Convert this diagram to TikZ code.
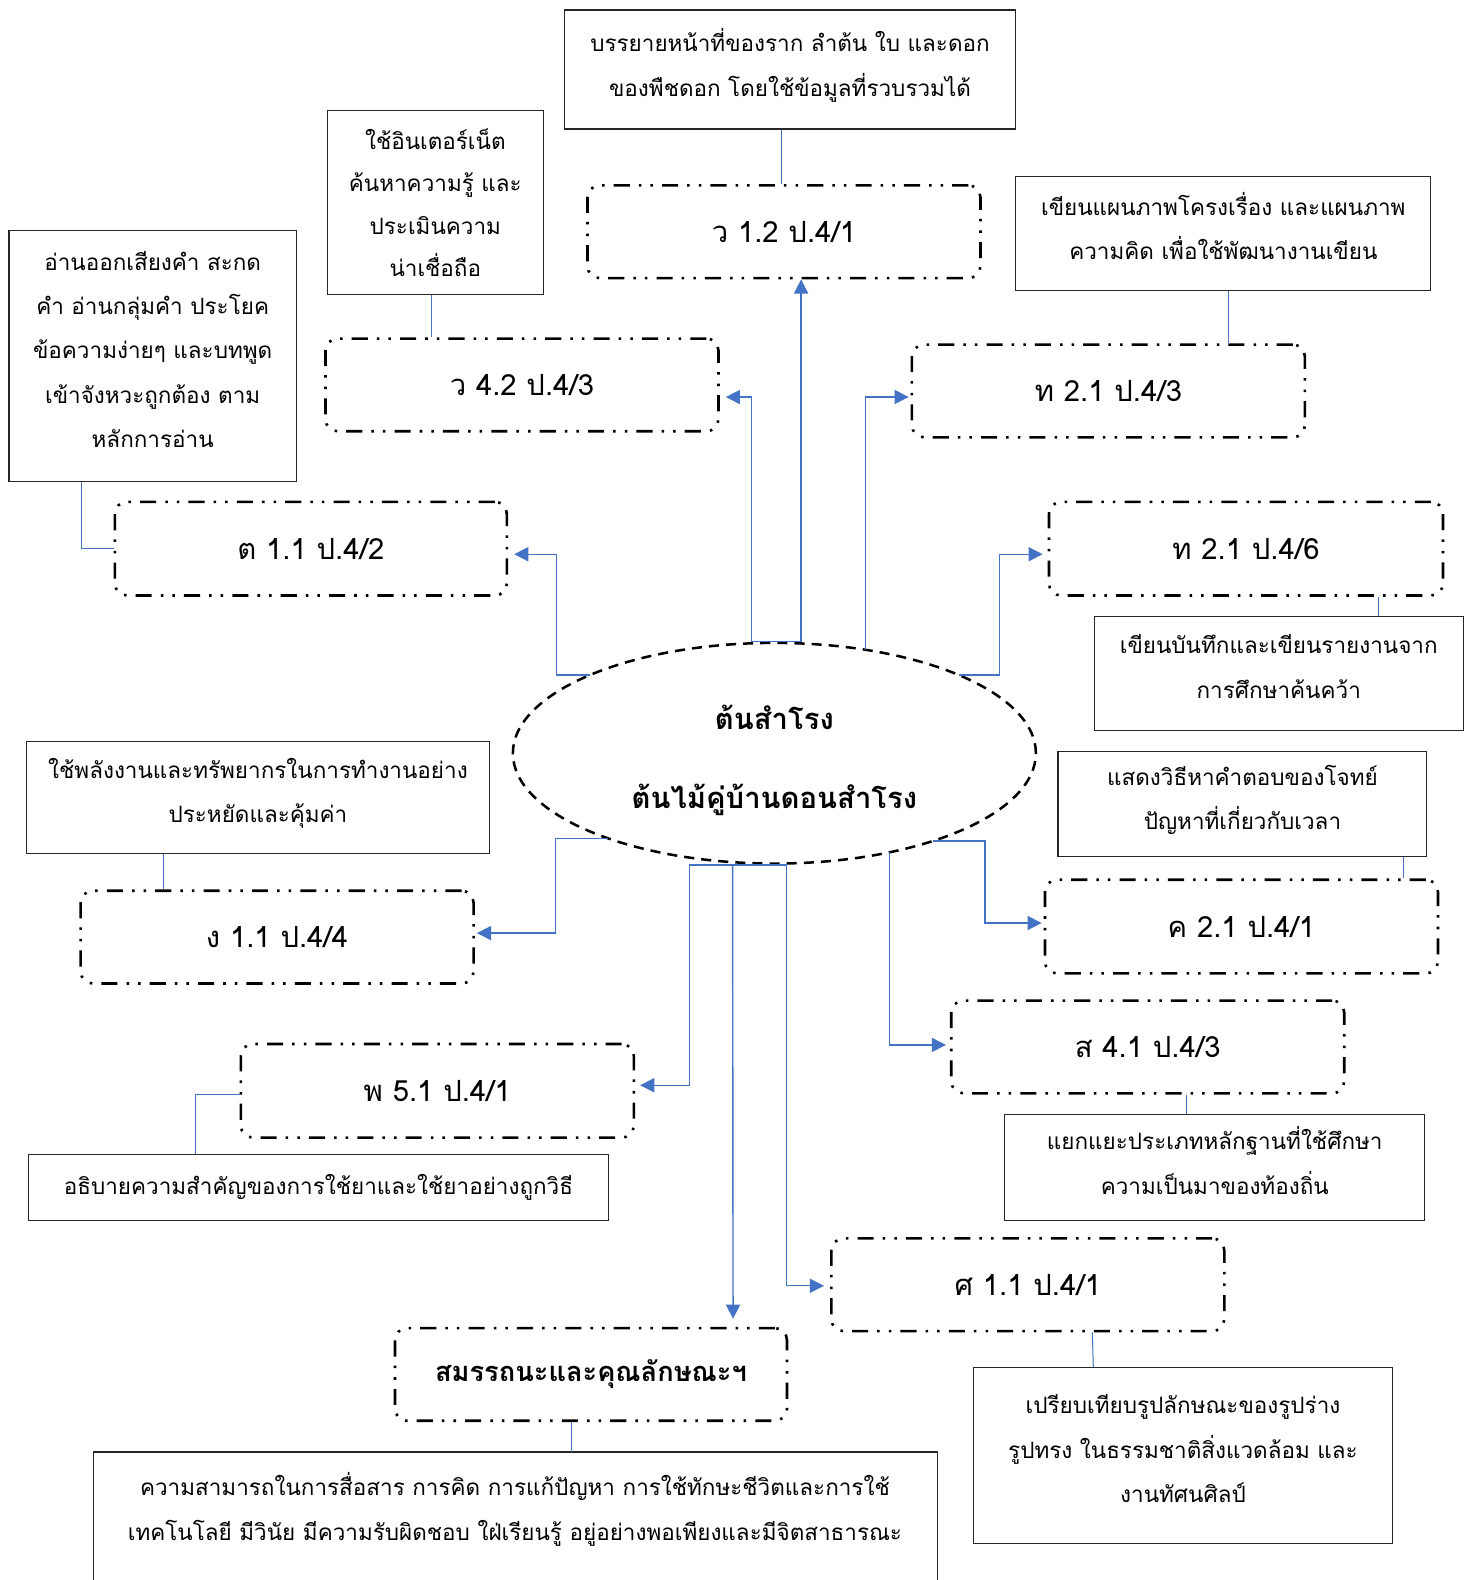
\documentclass[tikz,border=0pt]{standalone}
\usepackage{fontspec}
\newfontfamily\thaifont[Script=Thai]{Loma}
\usetikzlibrary{shapes.geometric,arrows.meta}
\definecolor{conn}{HTML}{4472C4}
\begin{document}
\begin{tikzpicture}[x=1pt,y=-1pt,
  txtbase/.style={draw=black!85, line width=1.2pt, align=center, inner sep=0pt, text=black,
    font=\thaifont\fontsize{22.3}{44}\selectfont},
  txtbox/.style={txtbase, execute at end node={\rule[-14pt]{0pt}{0pt}}},
  codebox/.style={draw=black, line width=2.6pt, rounded corners=12pt,
    dash pattern=on 16pt off 9pt on 2.5pt off 9pt on 2.5pt off 9pt,
    minimum width=390, minimum height=92, inner sep=0pt,
    font=\thaifont\fontsize{29}{32}\selectfont},
  link/.style={draw=conn, line width=1pt},
  arr/.style={draw=conn, line width=1.4pt, -{Triangle[length=14pt,width=14pt]}, shorten >=2pt},
]
\path[use as bounding box] (0,0) rectangle (1460,1568);
\clip (0,0) rectangle (1460,1568);
\fill[white] (0,0) rectangle (1460,1568);

% centre ellipse
\node[ellipse, draw=black, line width=2.5pt, dash pattern=on 10pt off 7pt,
  minimum width=519, minimum height=219, align=center,
  font=\thaifont\bfseries\fontsize{29}{78}\selectfont] (ell) at (768.5,747.5)
  {\rule{0pt}{38pt}ต้นสำโรง\\ต้นไม้คู่บ้านดอนสำโรง};

% code boxes
\node[codebox] (w12) at (778,230) {ว 1.2 ป.4/1};
\node[codebox] (w42) at (518,382) {ว 4.2 ป.4/3};
\node[codebox, minimum width=389, minimum height=93] (t11) at (308.5,544.5) {ต 1.1 ป.4/2};
\node[codebox] (th213) at (1100,388) {ท 2.1 ป.4/3};
\node[codebox, minimum width=391, minimum height=93] (th216) at (1236.5,544.5) {ท 2.1 ป.4/6};
\node[codebox] (ng11) at (275,930) {ง 1.1 ป.4/4};
\node[codebox, minimum height=93] (phw) at (434,1082.5) {พ 5.1 ป.4/1};
\node[codebox, minimum height=93] (kh21) at (1232,919.5) {ค 2.1 ป.4/1};
\node[codebox] (s41) at (1139,1039) {ส 4.1 ป.4/3};
\node[codebox] (sa11) at (1020,1275) {ศ 1.1 ป.4/1};
\node[codebox, minimum width=389, font=\thaifont\bfseries\fontsize{27}{30}\selectfont] (skill) at (586.5,1364) {สมรรถนะและคุณลักษณะฯ};

% text boxes
\node[txtbox, minimum width=448, minimum height=118] (topA) at (784,69)
  {บรรยายหน้าที่ของราก ลำต้น ใบ และดอก\\ของพืชดอก โดยใช้ข้อมูลที่รวบรวมได้};
\node[txtbase, minimum width=214, minimum height=182,
  font=\thaifont\fontsize{22.3}{42}\selectfont] (netA) at (432,201)
  {ใช้อินเตอร์เน็ต\\ค้นหาความรู้ และ\\ประเมินความ\\น่าเชื่อถือ};
\node[txtbox, minimum width=285, minimum height=249] (readA) at (151.5,353.5)
  {อ่านออกเสียงคำ สะกด\\คำ อ่านกลุ่มคำ ประโยค\\ข้อความง่ายๆ และบทพูด\\เข้าจังหวะถูกต้อง ตาม\\หลักการอ่าน};
\node[txtbox, minimum width=412, minimum height=113] (planA) at (1214,231.5)
  {เขียนแผนภาพโครงเรื่อง และแผนภาพ\\ความคิด เพื่อใช้พัฒนางานเขียน};
\node[txtbox, minimum width=366, minimum height=113] (noteA) at (1269,668.5)
  {เขียนบันทึกและเขียนรายงานจาก\\การศึกษาค้นคว้า};
\node[txtbox, minimum width=460, minimum height=111] (energyA) at (256,791.5)
  {ใช้พลังงานและทรัพยากรในการทำงานอย่าง\\ประหยัดและคุ้มค่า};
\node[txtbase, minimum width=576, minimum height=65] (drugA) at (316,1178.5)
  {อธิบายความสำคัญของการใช้ยาและใช้ยาอย่างถูกวิธี};
\node[txtbox, minimum width=366, minimum height=104] (showA) at (1233,798)
  {แสดงวิธีหาคำตอบของโจทย์\\ปัญหาที่เกี่ยวกับเวลา};
\node[txtbox, minimum width=417, minimum height=105] (sepA) at (1205.5,1158.5)
  {แยกแยะประเภทหลักฐานที่ใช้ศึกษา\\ความเป็นมาของท้องถิ่น};
\node[txtbox, minimum width=416, minimum height=175] (compA) at (1174,1444.5)
  {เปรียบเทียบรูปลักษณะของรูปร่าง\\รูปทรง ในธรรมชาติสิ่งแวดล้อม และ\\งานทัศนศิลป์};
\draw[draw=black!85, line width=1.2pt] (93,1595) |- (930,1441) -- (930,1595);
\node[txtbase, draw=none] (compe) at (511,1498)
  {ความสามารถในการสื่อสาร การคิด การแก้ปัญหา การใช้ทักษะชีวิตและการใช้\\เทคโนโลยี มีวินัย มีความรับผิดชอบ ใฝ่เรียนรู้ อยู่อย่างพอเพียงและมีจิตสาธารณะ};
\coordinate (compeTop) at (567,1441);

% thin links
\draw[link] ([xshift=-8]topA.south) -- ([xshift=-2]w12.north);
\draw[link] ([xshift=-4]netA.south) -- ([xshift=-90]w42.north);
\draw[link] ([xshift=-70.5]readA.south) |- (t11.west);
\draw[link] ([xshift=5]planA.south) -- ([xshift=119]th213.north);
\draw[link] ([xshift=131.5]th216.south) -- ([xshift=99]noteA.north);
\draw[link] ([xshift=-94]energyA.south) -- ([xshift=-113]ng11.north);
\draw[link] ([shift={(0,3.5)}]phw.west) -| ([xshift=-122]drugA.north);
\draw[link] ([xshift=160]showA.south) -- ([xshift=161]kh21.north);
\draw[link] ([xshift=38]s41.south) -- ([xshift=-28.5]sepA.north);
\draw[link] ([xshift=64]sa11.south) -- ([xshift=-89]compA.north);
\draw[link] ([xshift=-19.5]skill.south) -- (compeTop);

% arrows from the centre
\draw[arr, shorten >=0pt] ([xshift=26.5]ell.north) -- ([xshift=17]w12.south);
\draw[arr, shorten >=6pt] ([xshift=26.5]ell.north) -- ([xshift=-22.5]ell.north) |- ([shift={(0,12)}]w42.east);
\draw[arr] ([shift={(90.5,-102.5)}]ell.center) |- ([shift={(0,6)}]th213.west);
\draw[arr, shorten >=6pt] ([shift={(-183,-77.5)}]ell.center) -| ([shift={(48,5.5)}]t11.east) -- ([shift={(0,5.5)}]t11.east);
\draw[arr, shorten >=5pt] ([shift={(183,-77.5)}]ell.center) -| ([shift={(-48,5.5)}]th216.west) -- ([shift={(0,5.5)}]th216.west);
\draw[arr] ([shift={(-165,84.5)}]ell.center) -| ([shift={(80,-4)}]ng11.east) -- ([shift={(0,-4)}]ng11.east);
\draw[arr, shorten >=5pt] ([xshift=-41.5]ell.south) -| ([shift={(54,-5.5)}]phw.east) -- ([shift={(0,-5.5)}]phw.east);
\draw[arr, shorten >=8pt] ([xshift=-41.5]ell.south) -- ([xshift=141]skill.north);
\draw[arr, shorten >=6pt] ([xshift=-41.5]ell.south) -| ([shift={(-43,1)}]sa11.west) -- ([shift={(0,1)}]sa11.west);
\draw[arr, shorten >=4pt] ([shift={(114.5,98.3)}]ell.center) |- ([shift={(0,-2)}]s41.west);
\draw[arr] ([shift={(157.5,87)}]ell.center) -| ([shift={(-58,-3.5)}]kh21.west) -- ([shift={(0,-3.5)}]kh21.west);
\end{tikzpicture}
\end{document}
